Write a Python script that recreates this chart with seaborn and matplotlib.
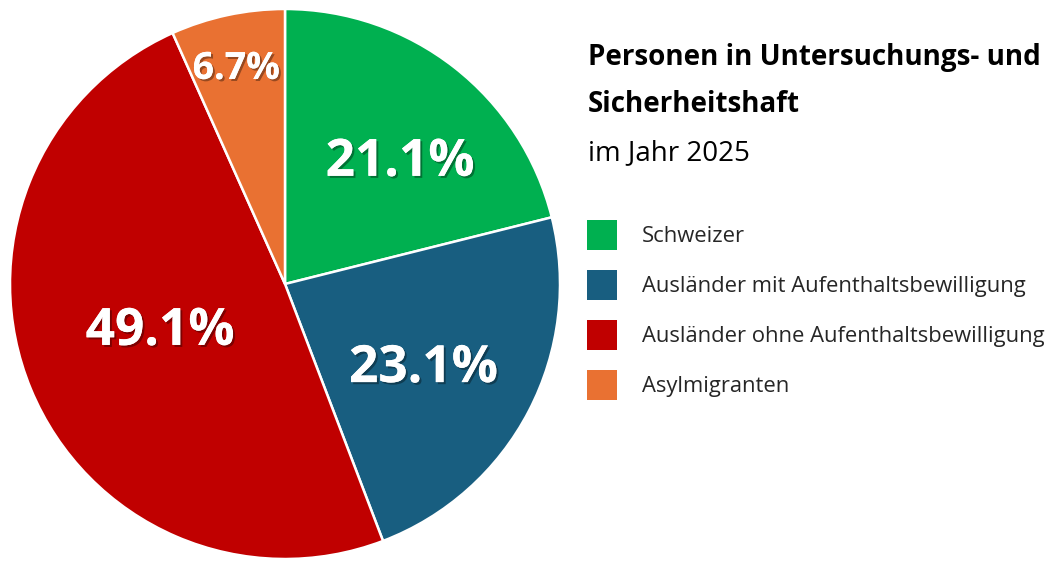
import numpy as np
import matplotlib
matplotlib.use("Agg")
import matplotlib.pyplot as plt
import matplotlib.patches as mpatches
import matplotlib.patheffects as pe
import seaborn as sns

categories = ["Schweizer", "Ausländer mit Aufenthaltsbewilligung",
              "Ausländer ohne Aufenthaltsbewilligung", "Asylmigranten"]
values = [21.1, 23.1, 49.1, 6.7]
colors = ["#00B050", "#185E80", "#C00000", "#E97132"]
title_lines = ["Personen in Untersuchungs- und", "Sicherheitshaft"]
subtitle = "im Jahr 2025"

sns.set_theme(style="white")
plt.rcParams['font.family'] = ['Open Sans', 'DejaVu Sans']

W, H = 1047, 561
fig = plt.figure(figsize=(W/100, H/100), dpi=100)
cx, cy, r = 285, 284, 275
ax = fig.add_axes([(cx - r)/W, (H - cy - r)/H, 2*r/W, 2*r/H])
wedges, _ = ax.pie(values, colors=colors, startangle=90, counterclock=False,
                   radius=1, wedgeprops=dict(edgecolor="white", linewidth=1.8))
ax.set_xlim(-1, 1); ax.set_ylim(-1, 1); ax.set_aspect("equal"); ax.axis("off")

label_r = [0.622, 0.581, 0.48, 0.814]
label_shift = [-4.3, -2.4, -3.7, 0.5]
label_fs = [37, 37, 37, 27]
start = 90.0
total = sum(values)
for v, lr, sh, fs in zip(values, label_r, label_shift, label_fs):
    span = v / total * 360
    mid = np.deg2rad(start - span / 2 + sh)
    start -= span
    ax.annotate(f"{v:.1f}%", xy=(lr*np.cos(mid), lr*np.sin(mid)),
                xytext=(0, -0.357*fs), textcoords="offset points",
                ha="center", va="baseline",
                color="white", fontsize=fs, fontweight="bold",
                path_effects=[pe.withSimplePatchShadow(offset=(1.5, -1.5), shadow_rgbFace="black", alpha=0.35),
                              pe.Normal()])

fig.text(588/W, 1 - 58/H, title_lines[0], fontsize=20, fontweight="bold", va="center", ha="left", color="black")
fig.text(588/W, 1 - 104/H, title_lines[1], fontsize=20, fontweight="bold", va="center", ha="left", color="black")
fig.text(588/W, 1 - 153/H, subtitle, fontsize=20, va="center", ha="left", color="black")

handles = [mpatches.Patch(facecolor=c, edgecolor="none", linewidth=0) for c in colors]
fig.legend(handles, categories, loc="upper left", bbox_to_anchor=(587/W, 1 - 220/H),
           frameon=False, fontsize=15.8, handlelength=1.367, handleheight=1.726,
           labelspacing=0.91, handletextpad=1.15, borderaxespad=0, borderpad=0)

fig.savefig("out.png", dpi=100)
